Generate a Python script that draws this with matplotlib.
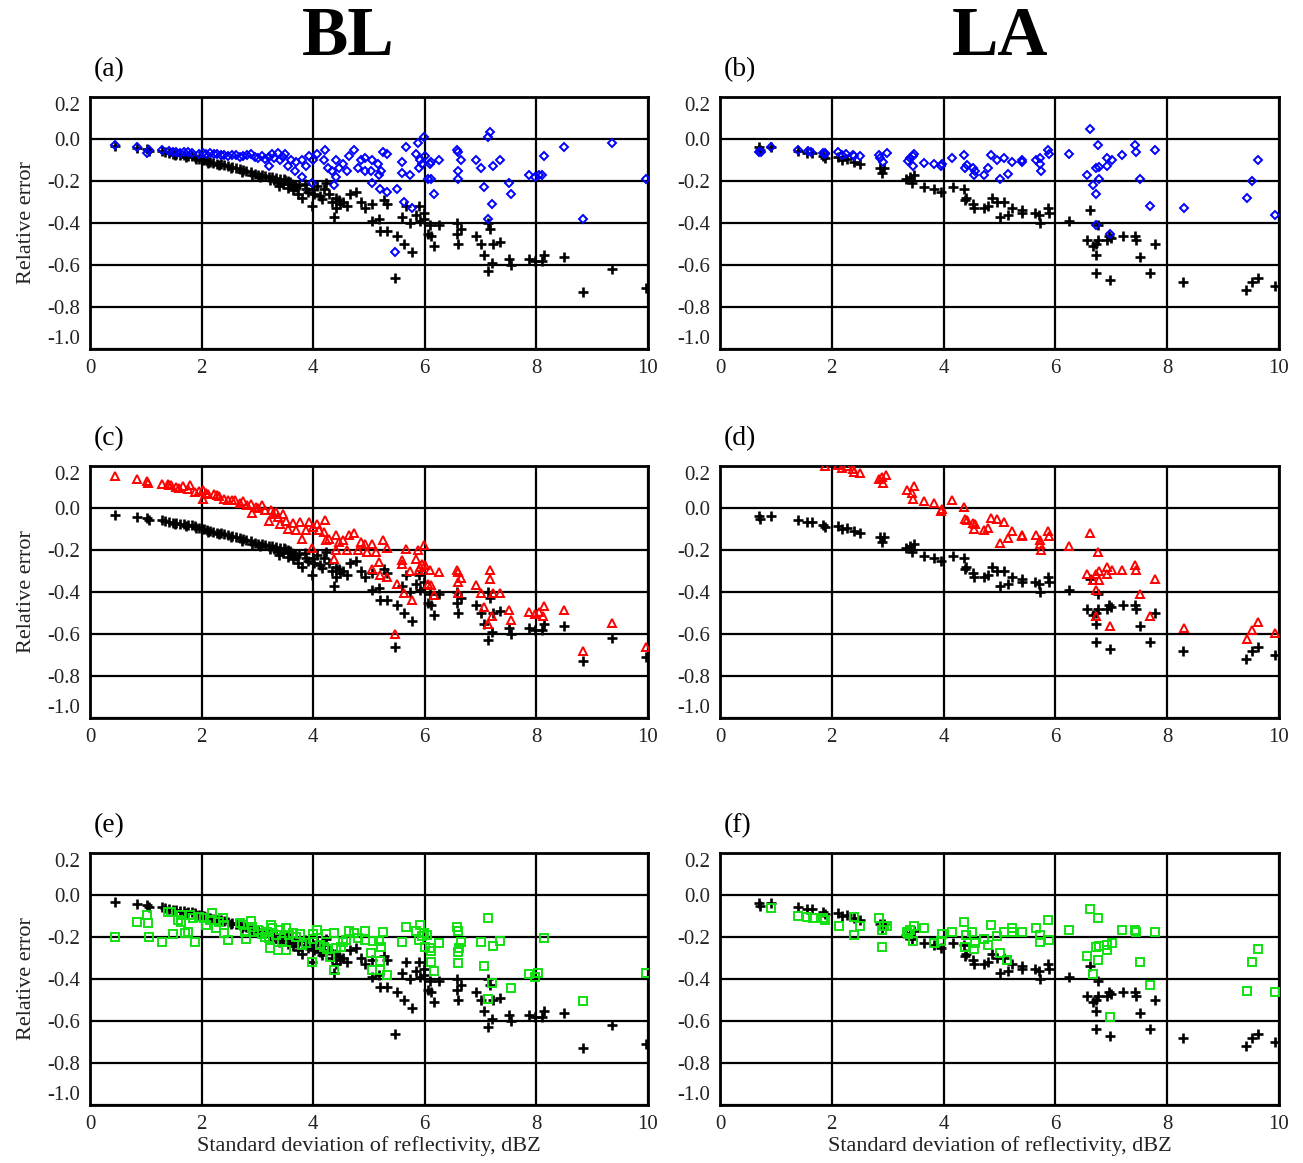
import numpy as np
import matplotlib
matplotlib.use("Agg")
import matplotlib.pyplot as plt

plt.rcParams["font.family"] = ["Liberation Serif", "DejaVu Serif"]

# ---- data: (std of reflectivity dBZ, relative error) ----
# black "+" reference series, left column (BL) -- same in (a), (c), (e)
bl_plus = [
    (0.45, -0.035), (0.85, -0.043), (1.02, -0.048), (1.05, -0.055), (1.29, -0.056),
    (1.35, -0.062), (1.42, -0.067), (1.48, -0.070), (1.55, -0.070), (1.62, -0.075),
    (1.69, -0.078), (1.75, -0.080), (1.82, -0.083), (1.88, -0.088), (1.95, -0.095),
    (2.00, -0.100), (2.05, -0.100), (2.10, -0.105), (2.15, -0.110), (2.20, -0.112),
    (2.28, -0.117), (2.35, -0.120), (2.41, -0.125), (2.48, -0.130), (2.55, -0.135),
    (2.61, -0.138), (2.68, -0.142), (2.74, -0.146), (2.80, -0.152), (2.88, -0.159),
    (2.95, -0.165), (3.01, -0.170), (3.08, -0.172), (3.14, -0.178), (3.20, -0.180),
    (3.27, -0.180), (3.34, -0.186), (3.41, -0.190), (3.47, -0.192), (3.50, -0.194),
    (3.39, -0.225), (3.54, -0.233), (3.67, -0.225), (3.80, -0.280), (3.87, -0.240),
    (3.97, -0.320), (4.07, -0.225), (4.20, -0.240), (4.23, -0.210), (4.37, -0.370),
    (4.40, -0.330), (4.40, -0.280), (4.53, -0.300), (4.60, -0.320), (4.66, -0.260),
    (4.76, -0.250), (4.86, -0.300), (4.93, -0.330), (5.06, -0.310), (5.06, -0.390),
    (5.18, -0.380), (5.19, -0.440), (5.26, -0.290), (5.32, -0.310), (5.32, -0.440),
    (5.46, -0.660), (5.51, -0.460), (5.59, -0.370), (5.62, -0.500), (5.66, -0.320),
    (5.74, -0.400), (5.77, -0.540), (5.85, -0.360), (5.89, -0.320), (5.92, -0.390),
    (5.99, -0.350), (5.99, -0.380), (6.06, -0.450), (6.10, -0.410), (6.12, -0.460),
    (6.17, -0.510), (6.25, -0.410), (6.58, -0.400), (6.58, -0.450), (6.59, -0.500),
    (6.65, -0.430), (6.91, -0.460), (7.01, -0.500), (7.06, -0.550), (7.14, -0.400),
    (7.16, -0.430), (7.14, -0.630), (7.21, -0.590), (7.23, -0.500), (7.34, -0.490),
    (7.51, -0.570), (7.54, -0.600), (7.87, -0.570), (7.98, -0.580), (8.10, -0.580),
    (8.13, -0.550), (8.50, -0.560), (9.35, -0.620), (8.84, -0.730), (9.97, -0.710),
    (3.58, -0.205), (3.62, -0.215), (3.70, -0.230), (3.75, -0.220), (3.90, -0.250),
    (4.00, -0.240), (4.12, -0.270), (4.28, -0.260), (4.46, -0.290), (3.30, -0.195),
    (1.52, -0.076), (1.72, -0.086), (1.90, -0.096), (2.12, -0.112), (2.32, -0.126),
    (2.52, -0.140), (2.72, -0.155), (2.90, -0.170), (3.05, -0.182), (3.22, -0.195),
    (3.36, -0.205), (3.46, -0.212), (3.55, -0.200), (3.64, -0.245), (3.72, -0.260),
    (3.85, -0.215), (4.02, -0.260), (4.15, -0.285), (4.33, -0.300), (4.48, -0.310),
]

# black "+" reference series, right column (LA) -- same in (b), (d), (f)
la_plus = [
    (0.69, -0.040), (0.72, -0.050), (0.91, -0.040), (1.39, -0.055), (1.56, -0.065),
    (1.65, -0.065), (1.85, -0.080), (1.88, -0.090), (2.11, -0.085), (2.18, -0.100),
    (2.28, -0.095), (2.40, -0.110), (2.51, -0.120), (2.87, -0.140), (2.90, -0.160),
    (2.94, -0.140), (3.33, -0.190), (3.40, -0.180), (3.43, -0.210), (3.47, -0.170),
    (3.65, -0.230), (3.82, -0.240), (3.96, -0.250), (4.16, -0.230), (4.36, -0.240),
    (4.38, -0.290), (4.40, -0.280), (4.52, -0.310), (4.55, -0.330), (4.72, -0.330),
    (4.80, -0.320), (4.86, -0.280), (4.95, -0.300), (5.00, -0.370), (5.08, -0.300),
    (5.15, -0.360), (5.23, -0.330), (5.40, -0.340), (5.41, -0.350), (5.64, -0.350),
    (5.71, -0.360), (5.73, -0.400), (5.86, -0.330), (5.89, -0.350), (6.24, -0.390),
    (6.62, -0.340), (6.57, -0.480), (6.67, -0.510), (6.73, -0.500), (6.77, -0.480),
    (6.73, -0.550), (6.77, -0.410), (6.93, -0.480), (6.95, -0.460), (7.00, -0.470),
    (7.21, -0.460), (7.43, -0.460), (7.44, -0.480), (7.52, -0.560), (7.79, -0.500),
    (6.73, -0.640), (6.98, -0.670), (7.69, -0.640), (8.28, -0.680), (9.41, -0.720),
    (9.52, -0.680), (9.62, -0.660), (9.93, -0.700),
]

# (a) blue diamonds, BL
bl_diamond = [
    (0.45, -0.030), (0.85, -0.040), (1.03, -0.065), (1.05, -0.050), (1.29, -0.050),
    (1.42, -0.058), (1.55, -0.062), (1.69, -0.062), (1.82, -0.065), (2.02, -0.068),
    (2.15, -0.068), (2.28, -0.073), (2.41, -0.078), (2.61, -0.078), (2.74, -0.080),
    (2.88, -0.073), (3.01, -0.089), (3.14, -0.097), (3.21, -0.130), (3.27, -0.073),
    (3.37, -0.065), (3.41, -0.100), (3.50, -0.070), (3.54, -0.130), (3.61, -0.100),
    (3.67, -0.150), (3.70, -0.110), (3.80, -0.180), (3.80, -0.100), (3.87, -0.130),
    (3.93, -0.080), (3.97, -0.210), (4.00, -0.100), (4.07, -0.073), (4.20, -0.100),
    (4.22, -0.050), (4.27, -0.140), (4.33, -0.150), (4.37, -0.220), (4.40, -0.100),
    (4.40, -0.180), (4.46, -0.140), (4.53, -0.120), (4.60, -0.150), (4.65, -0.080),
    (4.74, -0.050), (4.81, -0.140), (4.86, -0.100), (4.93, -0.090), (4.93, -0.150),
    (5.03, -0.150), (5.06, -0.100), (5.06, -0.210), (5.16, -0.120), (5.18, -0.170),
    (5.19, -0.240), (5.22, -0.150), (5.25, -0.060), (5.32, -0.070), (5.32, -0.250),
    (5.46, -0.540), (5.51, -0.240), (5.59, -0.110), (5.60, -0.160), (5.62, -0.300),
    (5.67, -0.040), (5.74, -0.170), (5.77, -0.330), (5.84, -0.070), (5.87, -0.020),
    (5.89, -0.140), (5.92, -0.100), (5.95, -0.120), (5.99, 0.010), (6.01, -0.080),
    (6.06, -0.190), (6.09, -0.120), (6.12, -0.190), (6.12, -0.110), (6.17, -0.260),
    (6.25, -0.100), (6.58, -0.050), (6.59, -0.060), (6.59, -0.150), (6.59, -0.190),
    (6.65, -0.100), (6.91, -0.100), (7.01, -0.140), (7.06, -0.230), (7.14, 0.008),
    (7.16, 0.035), (7.14, -0.380), (7.20, -0.310), (7.23, -0.130), (7.34, -0.100),
    (7.51, -0.210), (7.54, -0.260), (7.87, -0.170), (7.97, -0.180), (8.04, -0.170),
    (8.10, -0.170), (8.13, -0.080), (8.50, -0.040), (8.84, -0.380), (9.35, -0.020),
    (9.97, -0.190), (1.48, -0.060), (1.62, -0.065), (1.75, -0.064), (1.95, -0.070),
    (2.08, -0.072), (2.22, -0.070), (2.35, -0.075), (2.48, -0.082), (2.55, -0.076),
    (2.68, -0.085), (2.81, -0.078), (2.95, -0.085), (3.08, -0.080), (3.20, -0.085),
    (3.30, -0.090), (3.45, -0.085),
]

# (b) blue diamonds, LA
la_diamond = [
    (0.70, -0.060), (0.74, -0.060), (0.91, -0.040), (1.39, -0.050), (1.57, -0.055),
    (1.62, -0.063), (1.85, -0.065), (1.88, -0.068), (1.87, -0.072), (2.11, -0.060),
    (2.18, -0.075), (2.26, -0.070), (2.38, -0.075), (2.40, -0.080), (2.51, -0.080),
    (2.84, -0.075), (2.87, -0.090), (2.92, -0.110), (2.99, -0.068), (3.36, -0.105),
    (3.40, -0.090), (3.45, -0.080), (3.47, -0.070), (3.45, -0.130), (3.65, -0.115),
    (3.82, -0.120), (3.95, -0.130), (3.98, -0.120), (4.15, -0.090), (4.36, -0.078),
    (4.38, -0.140), (4.42, -0.125), (4.52, -0.140), (4.55, -0.170), (4.57, -0.150),
    (4.72, -0.170), (4.80, -0.140), (4.85, -0.075), (4.95, -0.100), (5.00, -0.190),
    (5.08, -0.090), (5.15, -0.165), (5.23, -0.110), (5.40, -0.110), (5.41, -0.100),
    (5.66, -0.100), (5.73, -0.090), (5.73, -0.120), (5.74, -0.150), (5.86, -0.050),
    (5.89, -0.070), (6.24, -0.070), (6.62, 0.048), (6.77, -0.030), (6.57, -0.170),
    (6.67, -0.220), (6.73, -0.140), (6.78, -0.135), (6.78, -0.190), (6.73, -0.260),
    (6.73, -0.410), (6.93, -0.130), (6.93, -0.090), (7.02, -0.100), (6.98, -0.450),
    (7.20, -0.075), (7.43, -0.030), (7.44, -0.060), (7.52, -0.190), (7.69, -0.320),
    (7.79, -0.050), (8.30, -0.330), (9.42, -0.280), (9.52, -0.200), (9.62, -0.100),
    (9.93, -0.360),
]

# (c) red triangles, BL
bl_triangle = [
    (0.45, 0.152), (0.85, 0.140), (1.03, 0.130), (1.04, 0.120), (1.29, 0.116),
    (1.39, 0.113), (1.46, 0.108), (1.55, 0.100), (1.67, 0.105), (1.75, 0.092),
    (1.79, 0.108), (1.88, 0.076), (2.02, 0.087), (2.02, 0.044), (2.12, 0.068),
    (2.22, 0.068), (2.31, 0.055), (2.41, 0.044), (2.48, 0.036), (2.60, 0.036),
    (2.74, 0.033), (2.81, 0.013), (2.88, 0.020), (2.91, -0.022), (2.98, 0.005),
    (3.08, 0.013), (3.14, -0.011), (3.21, -0.060), (3.24, -0.008), (3.34, -0.020),
    (3.37, -0.043), (3.41, -0.075), (3.46, -0.027), (3.51, -0.060), (3.54, -0.098),
    (3.64, -0.071), (3.70, -0.106), (3.77, -0.067), (3.80, -0.146), (3.87, -0.103),
    (3.92, -0.067), (3.97, -0.189), (4.00, -0.090), (4.07, -0.075), (4.10, -0.106),
    (4.19, -0.114), (4.22, -0.056), (4.23, -0.154), (4.28, -0.146), (4.37, -0.241),
    (4.40, -0.200), (4.40, -0.130), (4.46, -0.162), (4.53, -0.154), (4.60, -0.198),
    (4.65, -0.130), (4.74, -0.117), (4.81, -0.200), (4.86, -0.162), (4.93, -0.170),
    (4.96, -0.210), (5.06, -0.170), (5.06, -0.289), (5.13, -0.210), (5.18, -0.257),
    (5.19, -0.320), (5.25, -0.154), (5.32, -0.189), (5.32, -0.329), (5.46, -0.598),
    (5.51, -0.360), (5.59, -0.246), (5.60, -0.265), (5.62, -0.405), (5.66, -0.194),
    (5.74, -0.300), (5.77, -0.437), (5.84, -0.241), (5.87, -0.200), (5.89, -0.297),
    (5.92, -0.280), (5.95, -0.265), (5.99, -0.178), (6.01, -0.270), (6.06, -0.360),
    (6.09, -0.297), (6.12, -0.368), (6.17, -0.416), (6.25, -0.305), (6.58, -0.294),
    (6.59, -0.305), (6.59, -0.352), (6.59, -0.405), (6.65, -0.332), (6.91, -0.368),
    (7.01, -0.405), (7.06, -0.471), (7.14, -0.554), (7.16, -0.294), (7.16, -0.336),
    (7.20, -0.516), (7.23, -0.405), (7.34, -0.405), (7.51, -0.484), (7.54, -0.532),
    (7.87, -0.495), (7.97, -0.506), (8.04, -0.495), (8.12, -0.516), (8.13, -0.466),
    (8.50, -0.484), (8.84, -0.683), (9.35, -0.546), (9.97, -0.662), (1.42, 0.110),
    (1.60, 0.095), (1.95, 0.080), (2.08, 0.072), (2.28, 0.060), (2.55, 0.040),
    (2.68, 0.025), (3.01, 0.000), (3.28, -0.030),
]

# (d) red triangles, LA
la_triangle = [
    (1.87, 0.200), (2.11, 0.203), (2.18, 0.192), (2.28, 0.198), (2.38, 0.187),
    (2.40, 0.171), (2.51, 0.167), (2.84, 0.137), (2.89, 0.148), (2.92, 0.119),
    (2.97, 0.156), (3.35, 0.087), (3.43, 0.073), (3.47, 0.103), (3.45, 0.044),
    (3.65, 0.032), (3.82, 0.024), (3.95, -0.014), (3.98, -0.003), (4.15, 0.040),
    (4.36, 0.005), (4.38, -0.050), (4.42, -0.059), (4.52, -0.071), (4.55, -0.098),
    (4.57, -0.075), (4.72, -0.103), (4.80, -0.095), (4.85, -0.046), (4.95, -0.054),
    (5.00, -0.167), (5.08, -0.067), (5.15, -0.143), (5.23, -0.111), (5.40, -0.127),
    (5.41, -0.135), (5.66, -0.130), (5.73, -0.151), (5.73, -0.173), (5.74, -0.200),
    (5.86, -0.110), (5.89, -0.135), (6.24, -0.183), (6.62, -0.117), (6.77, -0.210),
    (6.57, -0.313), (6.67, -0.341), (6.73, -0.313), (6.78, -0.300), (6.78, -0.344),
    (6.73, -0.392), (6.73, -0.516), (6.93, -0.283), (6.93, -0.313), (7.02, -0.297),
    (6.98, -0.563), (7.20, -0.294), (7.43, -0.273), (7.44, -0.297), (7.52, -0.408),
    (7.69, -0.516), (7.79, -0.336), (8.30, -0.571), (9.42, -0.622), (9.52, -0.579),
    (9.62, -0.543), (9.93, -0.595),
]

# (e) green squares, BL
bl_square = [
    (0.45, -0.200), (0.85, -0.127), (1.03, -0.095), (1.04, -0.135), (1.06, -0.200),
    (1.29, -0.222), (1.39, -0.080), (1.46, -0.083), (1.48, -0.186), (1.57, -0.119),
    (1.63, -0.095), (1.63, -0.127), (1.70, -0.180), (1.75, -0.175), (1.80, -0.095),
    (1.85, -0.110), (1.88, -0.222), (1.95, -0.103), (2.05, -0.110), (2.08, -0.143),
    (2.15, -0.119), (2.18, -0.087), (2.25, -0.159), (2.31, -0.127), (2.38, -0.110),
    (2.40, -0.183), (2.41, -0.143), (2.47, -0.214), (2.68, -0.135), (2.74, -0.143),
    (2.78, -0.178), (2.79, -0.210), (2.88, -0.124), (2.91, -0.151), (2.94, -0.178),
    (3.01, -0.167), (3.08, -0.187), (3.14, -0.198), (3.17, -0.175), (3.21, -0.206),
    (3.23, -0.250), (3.24, -0.143), (3.27, -0.159), (3.34, -0.190), (3.37, -0.262),
    (3.41, -0.167), (3.44, -0.219), (3.51, -0.159), (3.52, -0.262), (3.57, -0.190),
    (3.64, -0.183), (3.70, -0.198), (3.77, -0.187), (3.80, -0.238), (3.87, -0.230),
    (3.97, -0.318), (3.99, -0.187), (4.00, -0.210), (4.07, -0.167), (4.13, -0.238),
    (4.20, -0.246), (4.23, -0.187), (4.25, -0.257), (4.30, -0.294), (4.37, -0.357),
    (4.38, -0.183), (4.40, -0.254), (4.50, -0.246), (4.54, -0.222), (4.59, -0.214),
    (4.65, -0.170), (4.74, -0.183), (4.81, -0.203), (4.93, -0.171), (4.93, -0.214),
    (5.03, -0.278), (5.06, -0.357), (5.07, -0.219), (5.18, -0.219), (5.19, -0.314),
    (5.20, -0.357), (5.22, -0.246), (5.25, -0.175), (5.32, -0.381), (5.59, -0.225),
    (5.67, -0.151), (5.84, -0.171), (5.89, -0.214), (5.92, -0.143), (5.95, -0.194),
    (5.99, -0.183), (6.01, -0.246), (6.04, -0.190), (6.09, -0.254), (6.12, -0.267),
    (6.12, -0.320), (6.17, -0.362), (6.25, -0.230), (6.58, -0.151), (6.59, -0.171),
    (6.59, -0.273), (6.59, -0.325), (6.61, -0.250), (6.65, -0.222), (7.01, -0.222),
    (7.06, -0.337), (7.14, -0.108), (7.14, -0.495), (7.20, -0.417), (7.23, -0.243),
    (7.34, -0.217), (7.54, -0.444), (7.87, -0.378), (7.97, -0.389), (8.02, -0.373),
    (8.13, -0.206), (8.84, -0.505), (9.97, -0.370),
]

# (f) green squares, LA
la_square = [
    (0.91, -0.061), (1.39, -0.098), (1.55, -0.104), (1.66, -0.109), (1.85, -0.109),
    (1.88, -0.120), (2.13, -0.146), (2.39, -0.104), (2.40, -0.192), (2.51, -0.146),
    (2.85, -0.109), (2.89, -0.165), (2.90, -0.247), (2.94, -0.149), (2.99, -0.146),
    (3.35, -0.176), (3.37, -0.188), (3.40, -0.165), (3.47, -0.146), (3.45, -0.220),
    (3.65, -0.157), (3.82, -0.228), (3.96, -0.217), (3.98, -0.184), (4.15, -0.177),
    (4.36, -0.128), (4.38, -0.247), (4.40, -0.189), (4.51, -0.176), (4.55, -0.255),
    (4.57, -0.228), (4.72, -0.209), (4.80, -0.240), (4.85, -0.144), (4.95, -0.196),
    (5.00, -0.276), (5.08, -0.176), (5.13, -0.308), (5.23, -0.157), (5.23, -0.176),
    (5.40, -0.176), (5.66, -0.157), (5.73, -0.189), (5.73, -0.224), (5.86, -0.117),
    (5.89, -0.212), (6.24, -0.168), (6.62, -0.066), (6.77, -0.109), (6.57, -0.292),
    (6.67, -0.376), (6.72, -0.247), (6.78, -0.244), (6.77, -0.311), (6.93, -0.263),
    (6.93, -0.240), (7.02, -0.228), (6.98, -0.582), (7.20, -0.165), (7.43, -0.165),
    (7.44, -0.176), (7.52, -0.319), (7.69, -0.430), (7.79, -0.176), (9.42, -0.455),
    (9.52, -0.320), (9.62, -0.255), (9.93, -0.462),
]

yticks = [0.2, 0.0, -0.2, -0.4, -0.6, -0.8, -1.0]
ytick_labels = ["0.2", "0.0", "-0.2", "-0.4", "-0.6", "-0.8", "-1.0"]
xticks = [0, 2, 4, 6, 8, 10]
panel_tags = ["(a)", "(b)", "(c)", "(d)", "(e)", "(f)"]
col_titles = ["BL", "LA"]

TXT = "#222222"


def _style(ax, show_ylabel, show_xlabel):
    ax.set_xlim(0, 10)
    ax.set_ylim(-1.0, 0.2)
    ax.set_xticks(xticks)
    ax.set_xticklabels([str(v) for v in xticks])
    ax.set_yticks(yticks)
    ax.set_yticklabels(ytick_labels)
    ax.tick_params(length=0, labelsize=15, colors=TXT, pad=7)
    labs = ax.get_yticklabels()
    labs[0].set_va("top")
    labs[-1].set_va("bottom")
    ax.grid(True, color="black", lw=1.6)
    ax.set_axisbelow(True)
    for s in ax.spines.values():
        s.set_linewidth(2.0)
        s.set_color("black")
    if show_ylabel:
        ax.set_ylabel("Relative error", fontsize=16, color=TXT, labelpad=8)
    if show_xlabel:
        ax.set_xlabel("Standard deviation of reflectivity, dBZ", fontsize=16,
                      color=TXT, labelpad=2)


fig = plt.figure(figsize=(13.03, 11.63), dpi=100)
W, H = 1303, 1163
lefts = [90, 720]
widths = [558, 559]
tops = [97, 466, 853]

plus_sets = [bl_plus, la_plus]
colored = [
    [bl_diamond, la_diamond],
    [bl_triangle, la_triangle],
    [bl_square, la_square],
]
styles = [
    dict(marker="D", ms=4.3, color="#0000ff"),
    dict(marker="^", ms=6.0, color="#ff0000"),
    dict(marker="s", ms=6.4, color="#11e011"),
]

k = 0
for r in range(3):
    for c in range(2):
        ax = fig.add_axes([lefts[c] / W, 1 - (tops[r] + 252) / H,
                           widths[c] / W, 252 / H])
        px, py = np.array(plus_sets[c]).T
        ax.plot(px, py, "+", color="black", ms=7.5, mew=1.9, zorder=3)
        cx, cy = np.array(colored[r][c]).T
        st = styles[r]
        ax.plot(cx, cy, ls="none", marker=st["marker"], ms=st["ms"],
                mfc="none", mec=st["color"], mew=1.4, zorder=4)
        _style(ax, c == 0, r == 2)
        ax.text(lefts[c] / W + 0.003, 1 - (tops[r] - 27) / H, panel_tags[k],
                transform=fig.transFigure, fontsize=20, color="black",
                ha="left", va="center")
        k += 1

fig.text(348 / W, 1 - 38 / H, col_titles[0], fontsize=50, fontweight="bold",
         ha="center", va="center")
fig.text(1000 / W, 1 - 38 / H, col_titles[1], fontsize=50, fontweight="bold",
         ha="center", va="center")

fig.savefig("out.png", dpi=100)
